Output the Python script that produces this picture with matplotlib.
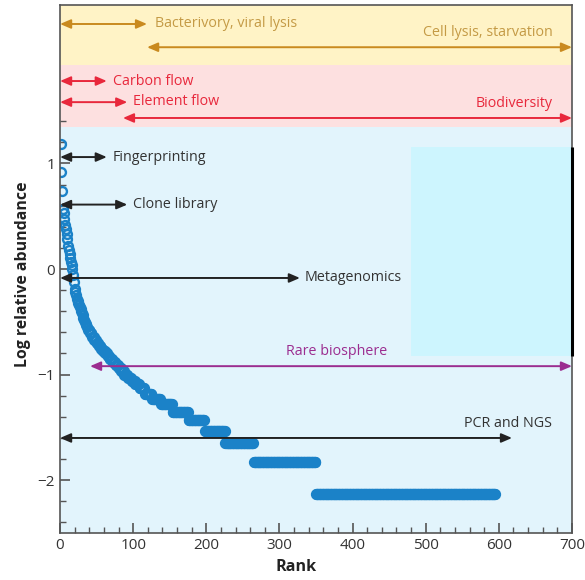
import numpy as np
import matplotlib
matplotlib.use("Agg")
import matplotlib.pyplot as plt
from matplotlib.ticker import MultipleLocator, FixedLocator

plt.rcParams['font.family'] = ['Open Sans', 'DejaVu Sans']

# rank-abundance curve: log relative abundance levels and how many taxa sit at each level
log_abund = [1.18, 0.92, 0.74, 0.57, 0.53, 0.47, 0.42, 0.38, 0.33, 0.28,
             0.22, 0.18, 0.14, 0.10, 0.07, 0.04, 0.00,
             -0.06, -0.12, -0.19, -0.22, -0.25, -0.28, -0.30, -0.32, -0.34, -0.36,
             -0.38, -0.40, -0.42, -0.44, -0.46, -0.48, -0.50, -0.52, -0.53, -0.55,
             -0.58, -0.61, -0.64, -0.67, -0.70, -0.73, -0.76, -0.78, -0.80, -0.82,
             -0.85, -0.88, -0.91, -0.94, -0.97, -1.00, -1.03, -1.06, -1.09, -1.13,
             -1.18, -1.23, -1.28, -1.35, -1.43, -1.53, -1.65, -1.83, -2.13]
n_taxa = [1] * 37 + [3] * 10 + [4] * 5 + [5, 5, 5, 6, 7,
          10, 12, 16, 22, 22, 28, 39, 85, 246]

# scale bands (y ranges) and the cyan block
bands = [(-2.5, 1.34, '#e2f4fc'), (1.34, 1.93, '#fde0e0'), (1.93, 2.5, '#fff3c6')]
cyan_x = (480, 700)
cyan_y = (-0.82, 1.16)

# arrows: x0, x1, y, colour
arrows = [
    (0, 119, 2.32, '#c98a1f'),
    (119, 700, 2.10, '#c98a1f'),
    (0, 64, 1.78, '#e8283c'),
    (0, 92, 1.58, '#e8283c'),
    (86, 700, 1.43, '#e8283c'),
    (0, 64, 1.06, '#222222'),
    (0, 92, 0.61, '#222222'),
    (0, 328, -0.085, '#222222'),
    (41, 700, -0.92, '#9b2d90'),
    (0, 618, -1.60, '#222222'),
]
labels = [
    ('Bacterivory, viral lysis', 130, 2.32, 'left', '#c49a45'),
    ('Cell lysis, starvation', 673, 2.24, 'right', '#c49a45'),
    ('Carbon flow', 72, 1.78, 'left', '#e8283c'),
    ('Element flow', 100, 1.59, 'left', '#e8283c'),
    ('Biodiversity', 673, 1.57, 'right', '#e8283c'),
    ('Fingerprinting', 72, 1.06, 'left', '#333333'),
    ('Clone library', 100, 0.61, 'left', '#333333'),
    ('Metagenomics', 335, -0.085, 'left', '#333333'),
    ('Rare biosphere', 378, -0.78, 'center', '#9b2d90'),
    ('PCR and NGS', 673, -1.46, 'right', '#333333'),
]

y = np.repeat(log_abund, n_taxa)
rank = np.arange(1, len(y) + 1)

fig = plt.figure(figsize=(5.85, 5.8), dpi=100)
ax = fig.add_axes([0.1026, 0.081, 0.8752, 0.9104])
ax.set_xlim(0, 700)
ax.set_ylim(-2.5, 2.5)

for y0, y1, c in bands:
    ax.axhspan(y0, y1, color=c, lw=0, zorder=0)
ax.fill_between(cyan_x, cyan_y[0], cyan_y[1], color='#cdf5fe', lw=0, zorder=0.5)
ax.plot([700, 700], cyan_y, color='black', lw=2.2, zorder=5, clip_on=False, solid_capstyle='butt')

ax.plot(rank, y, 'o', ms=6.4, mfc='none', mec='#1b82c8', mew=1.7, zorder=2)

for x0, x1, yy, c in arrows:
    ax.annotate('', xy=(x1, yy), xytext=(x0, yy),
                arrowprops=dict(arrowstyle='<|-|>,head_length=0.7,head_width=0.3',
                                color=c, lw=1.4, shrinkA=0, shrinkB=0, mutation_scale=9),
                annotation_clip=False, zorder=4)
for txt, xx, yy, ha, c in labels:
    ax.text(xx, yy, txt, ha=ha, va='center', color=c, fontsize=10.3, zorder=4)

for s in ax.spines.values():
    s.set_color('#555555')
    s.set_linewidth(1.2)

ax.xaxis.set_major_locator(MultipleLocator(100))
ax.xaxis.set_minor_locator(MultipleLocator(20))
ax.yaxis.set_major_locator(FixedLocator([-2, -1, 0, 1]))
ax.yaxis.set_minor_locator(FixedLocator(np.round(np.arange(-2.4, 1.41, 0.2), 1)))
ax.tick_params(which='both', direction='in', colors='#555555', labelcolor='#333333', labelsize=11)
ax.tick_params(which='major', length=7, width=1.2)
ax.tick_params(which='minor', length=4, width=1)

ax.set_xlabel('Rank', fontsize=11.6, fontweight='bold', color='#222222')
ax.set_ylabel('Log relative abundance', fontsize=11.4, fontweight='bold', color='#222222')
ax.xaxis.set_label_coords(0.461, -0.05)
ax.yaxis.set_label_coords(-0.057, 0.49)

fig.savefig('out.png', dpi=100)
